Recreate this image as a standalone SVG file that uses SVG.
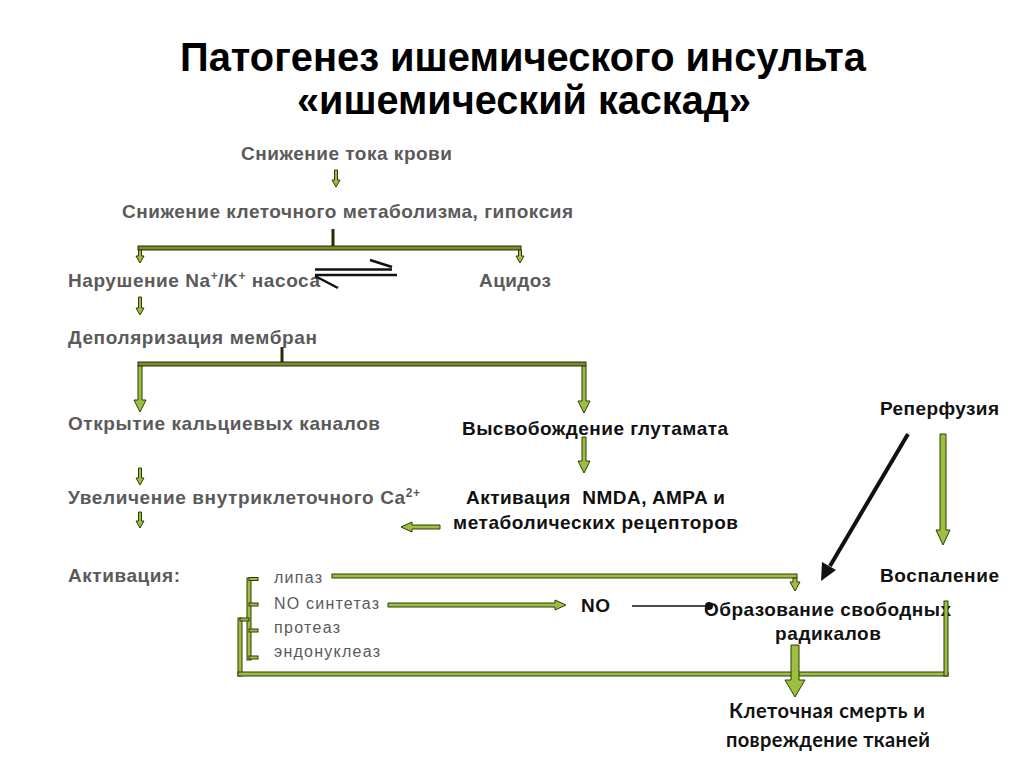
<svg xmlns="http://www.w3.org/2000/svg" width="1024" height="767" viewBox="0 0 1024 767">
<style>
.t{font-family:"Liberation Sans",Arial,sans-serif;font-weight:bold;font-size:19px;fill:#5a5a5a}
.b{font-family:"Liberation Sans",Arial,sans-serif;font-weight:bold;font-size:19px;fill:#111}
.s{font-family:"Liberation Sans",Arial,sans-serif;font-size:16px;fill:#5a5a5a}
.ttl{font-family:"Liberation Sans",Arial,sans-serif;font-weight:bold;font-size:41px;fill:#000}
.c{font-family:Lato,"Open Sans",sans-serif;font-weight:bold;font-size:20px;fill:#111}
.g{fill:#9cbf3e;stroke:#2e3a0c;stroke-width:1}
.o{fill:#7e8c2c;stroke:#262d08;stroke-width:1}
.k{stroke:#111;fill:none}
</style>
<rect width="1024" height="767" fill="#fff"/>
<g id="title">
<text class="ttl" x="180" y="71" textLength="686" lengthAdjust="spacingAndGlyphs">Патогенез ишемического инсульта</text>
<text class="ttl" x="297" y="114" textLength="454" lengthAdjust="spacingAndGlyphs">«ишемический каскад»</text>
</g>
<g id="n-blood"><text class="t" x="241" y="160" textLength="211">Снижение тока крови</text></g>
<g id="n-metab"><text class="t" x="122" y="218" textLength="451">Снижение клеточного метаболизма, гипоксия</text></g>
<g id="n-nak"><text class="t" x="68" y="287" textLength="252">Нарушение Na<tspan font-size="12" dy="-7">+</tspan><tspan dy="7">/K</tspan><tspan font-size="12" dy="-7">+</tspan><tspan dy="7"> насоса</tspan></text></g>
<g id="n-acid"><text class="t" x="479" y="287" textLength="72">Ацидоз</text></g>
<g id="n-depol"><text class="t" x="68" y="344" textLength="249">Деполяризация мембран</text></g>
<g id="n-ca-open"><text class="t" x="68" y="430" textLength="312">Открытие кальциевых каналов</text></g>
<g id="n-glut"><text class="b" x="462" y="435" textLength="266">Высвобождение глутамата</text></g>
<g id="n-ca-inc"><text class="t" x="68" y="504" textLength="352">Увеличение внутриклеточного Ca<tspan font-size="12" dy="-7">2+</tspan></text></g>
<g id="n-nmda"><text class="b" x="466" y="504" textLength="259">Активация&#160; NMDA, AMPA и</text><text class="b" x="453" y="529" textLength="285">метаболических рецепторов</text></g>
<g id="n-activ"><text class="t" x="68" y="582" textLength="112">Активация:</text></g>
<g id="n-enz">
<text class="s" x="274" y="583" textLength="48">липаз</text>
<text class="s" x="274" y="609" textLength="105">NO синтетаз</text>
<text class="s" x="274" y="633" textLength="66">протеаз</text>
<text class="s" x="274" y="657" textLength="106">эндонуклеаз</text>
</g>
<g id="n-no"><text class="b" x="581" y="612" textLength="29">NO</text></g>
<g id="n-radicals"><text class="b" x="704" y="616" textLength="247">Образование свободных</text><text class="b" x="775" y="640" textLength="106">радикалов</text></g>
<g id="n-reperf"><text class="b" x="880" y="415" textLength="119">Реперфузия</text></g>
<g id="n-inflam"><text class="b" x="880" y="582" textLength="119">Воспаление</text></g>
<g id="n-death"><text class="c" x="729" y="718" textLength="196">Клеточная смерть и</text><text class="c" x="726" y="747" textLength="204">повреждение тканей</text></g>
<g id="connectors">
<polygon class="g" points="334.5,170 337.5,170 337.5,180 340,180 336,187 332,180 334.5,180"/>
<line x1="333" y1="229" x2="333" y2="246" stroke="#262d08" stroke-width="3"/>
<rect class="o" x="138" y="246" width="383" height="4"/>
<polygon class="g" points="138.5,250 141.5,250 141.5,256 144,256 140,263 136,256 138.5,256"/>
<polygon class="g" points="518.5,250 521.5,250 521.5,256 524,256 520,263 516,256 518.5,256"/>
<g class="k" stroke-width="2.5">
<line x1="315" y1="269.5" x2="392" y2="269.5"/>
<line x1="370" y1="260" x2="392" y2="267"/>
<line x1="315" y1="275" x2="397" y2="275"/>
<line x1="315" y1="276" x2="338" y2="288"/>
</g>
<polygon class="g" points="138.5,297 141.5,297 141.5,308 144,308 140,315 136,308 138.5,308"/>
<line x1="282" y1="347" x2="282" y2="362" stroke="#262d08" stroke-width="3"/>
<rect class="o" x="138" y="362" width="448" height="4"/>
<polygon class="g" points="138,366 142,366 142,400 146,400 140,412 134,400 138,400"/>
<polygon class="g" points="582,366 586,366 586,401 590,401 584,413 578,401 582,401"/>
<polygon class="g" points="582,437 586,437 586,461 590,461 584,473 578,461 582,461"/>
<polygon class="g" points="138.5,468 141.5,468 141.5,478 144,478 140,485 136,478 138.5,478"/>
<polygon class="g" points="138.5,512 141.5,512 141.5,521 144,521 140,528 136,521 138.5,521"/>
<polygon class="g" points="440,525 412,525 412,522 401,527 412,532 412,529 440,529"/>
<rect class="g" x="247" y="578" width="4" height="82"/>
<rect class="g" x="249" y="577.5" width="9" height="3"/>
<rect class="g" x="249" y="603" width="9" height="3"/>
<rect class="g" x="249" y="629" width="9" height="3"/>
<rect class="g" x="249" y="656" width="9" height="3"/>
<rect class="g" x="238" y="618" width="4" height="58"/>
<rect class="g" x="240" y="618" width="9" height="3"/>
<rect class="g" x="238" y="672" width="710" height="4"/>
<rect class="g" x="944" y="601" width="4" height="75"/>
<rect class="g" x="332" y="574" width="465" height="4"/>
<polygon class="g" points="793,578 797,578 797,582 800,582 795,591 790,582 793,582"/>
<polygon class="g" points="388,603 555,603 555,600 566,605 555,610 555,607 388,607"/>
<line x1="632" y1="606" x2="708" y2="606" stroke="#111" stroke-width="1.5"/>
<circle cx="709" cy="606" r="4" fill="#111"/>
<line x1="908" y1="434" x2="830" y2="566" stroke="#111" stroke-width="4"/>
<polygon points="821,581 822,562 836,570" fill="#111"/>
<polygon class="g" points="940,434 946,434 946,530 950,530 943,545 936,530 940,530"/>
<polygon class="g" points="791,645 799,645 799,680 805,680 795,697 785,680 791,680"/>
</g>
</svg>
